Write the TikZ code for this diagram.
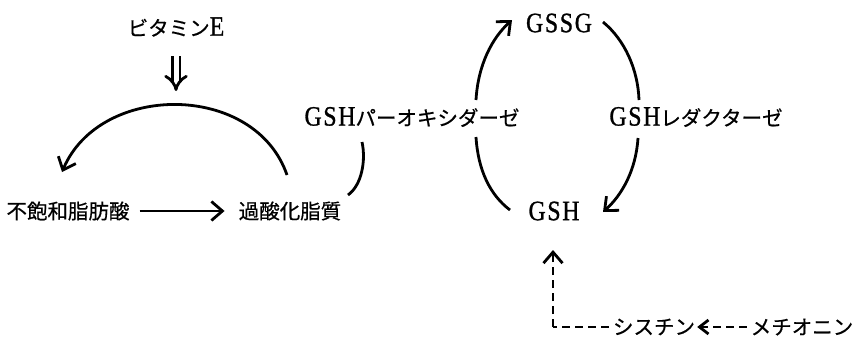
\documentclass[tikz,border=0pt]{standalone}
\usepackage{fontspec}
\newfontfamily\jp[FakeBold=0.6]{Noto Sans CJK JP}
\newfontfamily\lat[FakeStretch=0.85,LetterSpace=6,FakeBold=1]{Liberation Serif}
\usetikzlibrary{arrows.meta,calc}
\newcommand{\lt}[1]{{\lat\fontsize{28}{30}\selectfont #1}}
\begin{document}
\begin{tikzpicture}[x=1pt,y=-1pt,
  lbl/.style={inner sep=0pt, font=\jp\fontsize{20.5}{22}\selectfont},
  conn/.style={line width=2.8pt},
  tip/.style={-{Straight Barb[length=11pt,width=19pt,line width=2.8pt]}},
  dtip/.style={-{Straight Barb[length=9pt,width=14pt,line width=2.8pt]}},
  dsh/.style={line width=2.8pt, dash pattern=on 8pt off 5pt}]
\useasboundingbox (0,0) rectangle (854,340);
% nodes
\node[lbl] (vitE) at (176,27) {ビタミン\lt{E}};
\node[lbl] (ufa) at (68,211) {不飽和脂肪酸};
\node[lbl] (lpo) at (290,211) {過酸化脂質};
\node[lbl] (gpx) at (412,117) {\lt{GSH}パーオキシダーゼ};
\node[lbl] (gssg) at (559,23) {\lt{GSSG}};
\node[lbl] (gred) at (696,117) {\lt{GSH}レダクターゼ};
\node[lbl] (gsh) at (554,211) {\lt{GSH}};
\node[lbl] (cys) at (654,327) {シスチン};
\node[lbl] (met) at (802,327) {メチオニン};
% coordinates
\coordinate (vA) at (176,56);
\coordinate (vB) at (176,91);
\coordinate (a1) at (287,175);
\coordinate (a2) at (62,172);
\coordinate (p1) at (348,195);
\coordinate (p2) at (362,142);
\coordinate (s1) at (476,100);
\coordinate (s2) at (512,20);
\coordinate (r1) at (603,22);
\coordinate (r2) at (639,100);
\coordinate (r3) at (638,138);
\coordinate (r4) at (603,212);
\coordinate (h1) at (476,137);
\coordinate (h2) at (510,210);
\coordinate (c0) at (553,327);
\coordinate (c1) at (553,250);
% connectors
\draw[line width=2.8pt, double distance=5pt, -{Implies[length=9pt]}] (vA) -- (vB);
\draw[conn,tip] (a1) .. controls (255,82) and (100,82) .. (a2);
\draw[conn,tip] ($(ufa.east)+(10,0)$) -- ($(lpo.west)+(-14,0)$);
\draw[conn] (p1) .. controls (362,185) and (366,160) .. (p2);
\draw[conn,tip] (s1) .. controls (478,65) and (492,38) .. (s2);
\draw[conn] (r1) .. controls (625,40) and (638,70) .. (r2);
\draw[conn,tip] (r3) .. controls (636,170) and (622,195) .. (r4);
\draw[conn] (h1) .. controls (478,170) and (490,195) .. (h2);
\draw[dsh] ($(cys.west)+(-4,0)$) -- (c0);
\draw[dsh,tip] (c0) -- (c1);
\draw[dsh,dtip] ($(met.west)+(-4,0)$) -- ($(cys.east)+(2,0)$);
\end{tikzpicture}
\end{document}
